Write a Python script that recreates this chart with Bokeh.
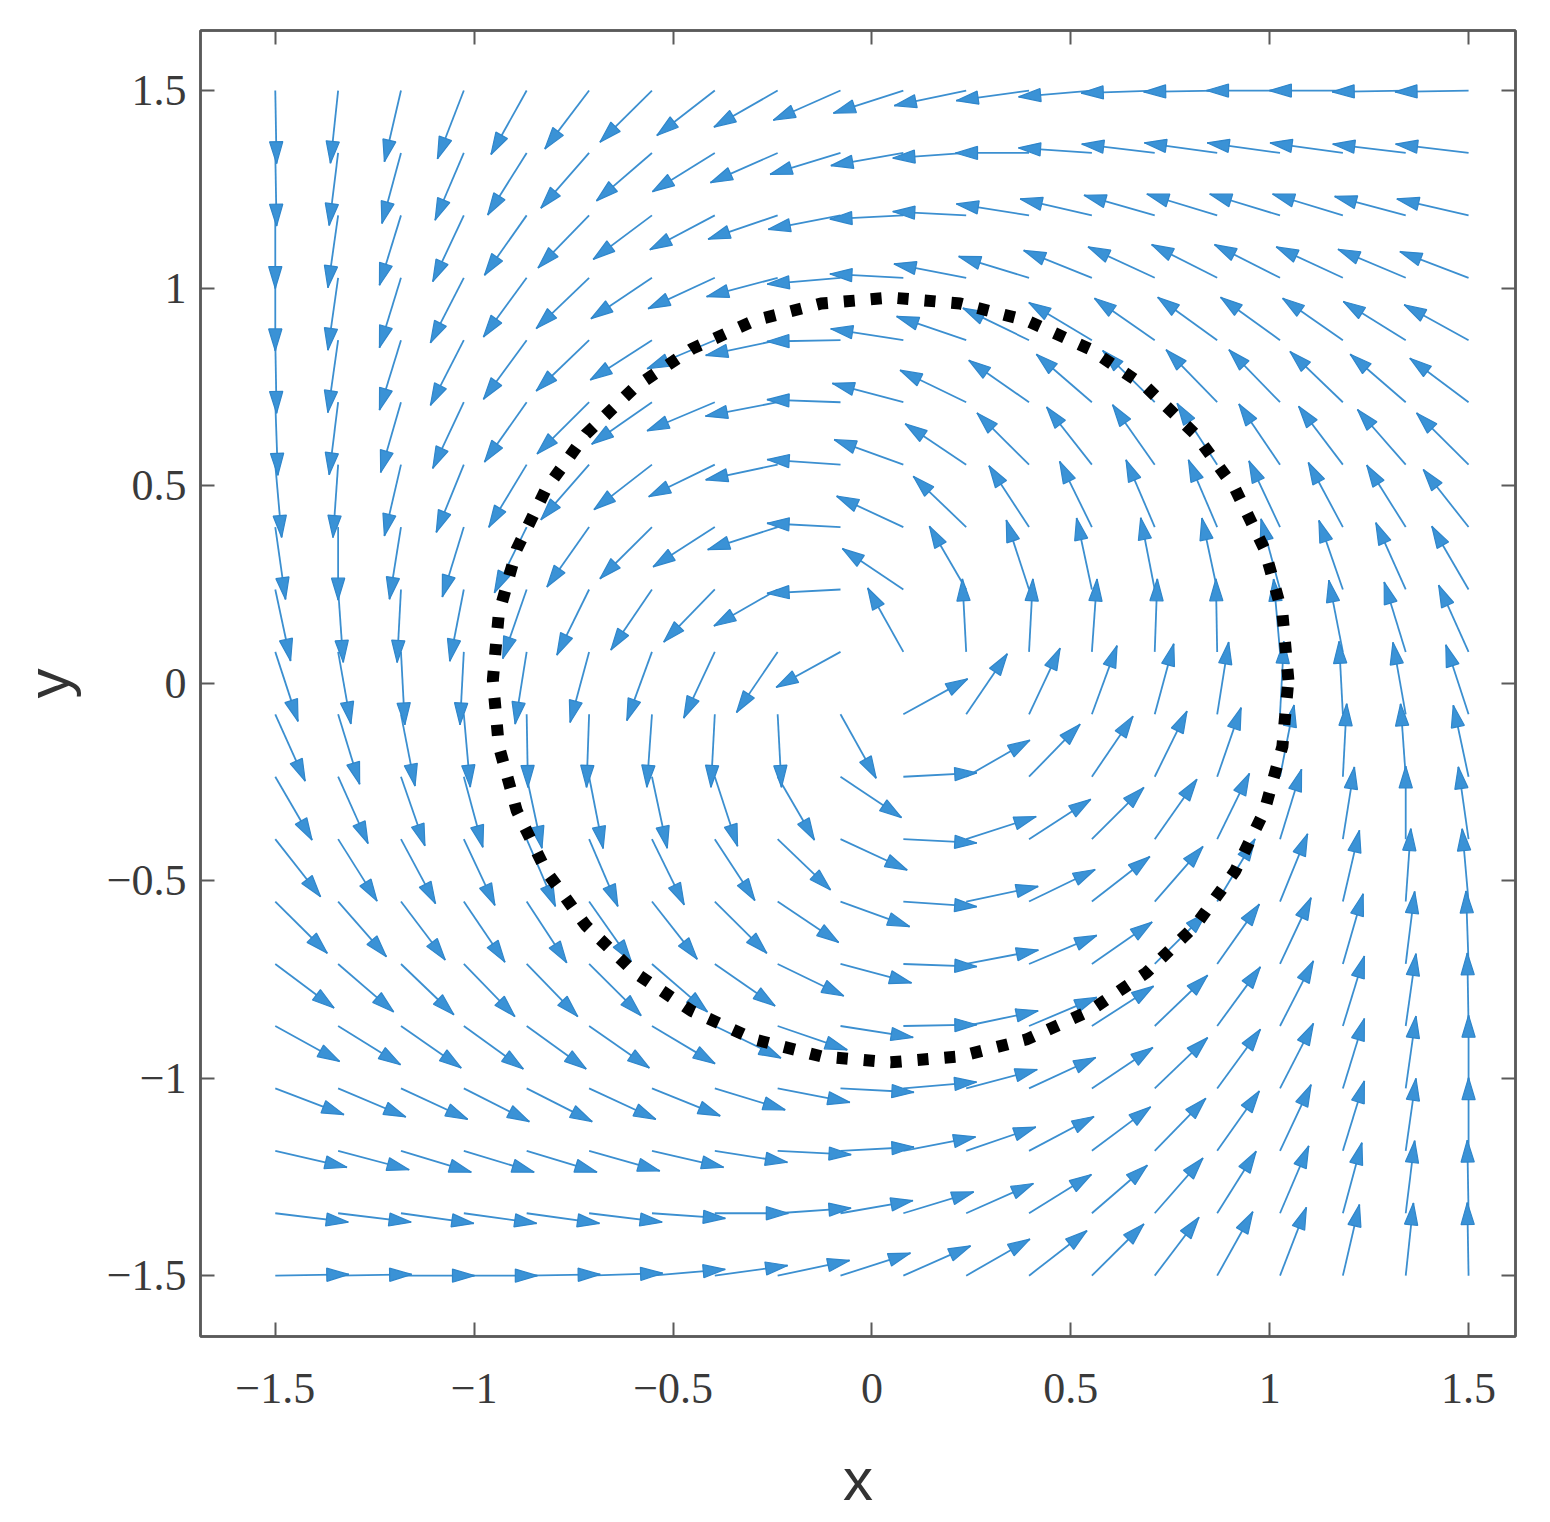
import math
from bokeh.plotting import figure
from bokeh.models import FixedTicker, LinearAxis
from bokeh.embed import file_html
from bokeh.resources import INLINE

# grid of arrow tails (same for x and y)
grid = [-1.5, -1.342, -1.184, -1.026, -0.868, -0.711, -0.553, -0.395, -0.237, -0.079,
        0.079, 0.237, 0.395, 0.553, 0.711, 0.868, 1.026, 1.184, 1.342, 1.5]

# arrow direction (degrees, counter-clockwise from +x), rows from y=1.5 (top) to y=-1.5
angles = [
    [271, 264, 257, 249, 241, 233, 225, 218, 210, 204, 198, 192, 188, 185, 182, 181, 180, 180, 181, 181],
    [271, 263, 255, 247, 238, 229, 221, 212, 204, 197, 190, 184, 180, 176, 173, 172, 172, 172, 173, 173],
    [270, 262, 253, 245, 235, 226, 217, 208, 199, 191, 183, 177, 171, 167, 164, 163, 163, 163, 165, 167],
    [270, 262, 253, 243, 234, 224, 214, 205, 195, 185, 177, 169, 163, 158, 155, 153, 153, 155, 157, 159],
    [271, 262, 253, 243, 234, 224, 213, 203, 192, 181, 171, 161, 154, 149, 145, 144, 144, 145, 148, 151],
    [272, 263, 254, 245, 235, 225, 215, 203, 191, 178, 165, 154, 145, 139, 135, 134, 134, 136, 139, 143],
    [275, 266, 257, 248, 239, 229, 218, 206, 192, 176, 160, 146, 135, 128, 125, 123, 124, 127, 131, 135],
    [278, 270, 261, 253, 244, 235, 225, 213, 198, 177, 155, 136, 123, 116, 113, 113, 115, 118, 122, 128],
    [282, 274, 267, 259, 251, 244, 236, 226, 210, 183, 146, 120, 108, 102, 101, 102, 105, 109, 114, 120],
    [288, 280, 273, 267, 261, 255, 250, 245, 236, 209, 119, 93, 87, 86, 88, 91, 95, 101, 107, 114],
    [294, 287, 281, 275, 271, 268, 266, 267, 273, 299, 29, 56, 65, 70, 75, 81, 87, 93, 100, 108],
    [300, 294, 289, 285, 282, 281, 282, 288, 300, 326, 3, 30, 46, 56, 64, 71, 79, 87, 94, 102],
    [308, 302, 298, 295, 293, 293, 296, 303, 316, 335, 357, 18, 33, 45, 55, 64, 73, 81, 90, 98],
    [315, 311, 307, 304, 303, 305, 308, 315, 326, 340, 356, 12, 26, 38, 49, 59, 68, 77, 86, 95],
    [323, 319, 316, 314, 314, 315, 319, 325, 334, 345, 358, 11, 23, 35, 45, 55, 65, 74, 83, 92],
    [331, 328, 325, 324, 324, 325, 329, 334, 341, 351, 1, 12, 23, 33, 44, 54, 63, 73, 82, 91],
    [339, 337, 335, 333, 333, 335, 338, 343, 349, 357, 5, 15, 25, 34, 44, 54, 63, 73, 82, 90],
    [347, 345, 343, 343, 343, 344, 347, 351, 357, 3, 11, 19, 28, 37, 46, 55, 65, 73, 82, 90],
    [353, 353, 352, 352, 352, 353, 356, 0, 4, 10, 17, 24, 32, 41, 49, 58, 67, 75, 83, 91],
    [1, 1, 0, 0, 1, 2, 5, 8, 12, 18, 24, 30, 38, 45, 53, 61, 69, 77, 84, 91],
]
arrow_len = 0.185

# limit cycle (dotted curve)
cycle_x = [1.047, 1.032, 0.987, 0.913, 0.813, 0.690, 0.547, 0.389, 0.221, 0.047,
           -0.127, -0.295, -0.453, -0.596, -0.719, -0.819, -0.893, -0.938, -0.953,
           -0.938, -0.893, -0.819, -0.719, -0.596, -0.453, -0.295, -0.127, 0.047,
           0.221, 0.389, 0.547, 0.690, 0.813, 0.913, 0.987, 1.032, 1.047]
cycle_y = [0.008, 0.176, 0.339, 0.492, 0.630, 0.749, 0.846, 0.918, 0.961, 0.976,
           0.961, 0.918, 0.846, 0.749, 0.630, 0.492, 0.339, 0.176, 0.008,
           -0.160, -0.323, -0.476, -0.614, -0.733, -0.830, -0.902, -0.945, -0.960,
           -0.945, -0.902, -0.830, -0.733, -0.614, -0.476, -0.323, -0.160, 0.008]

ticks = [-1.5, -1, -0.5, 0, 0.5, 1, 1.5]
tick_labels = ["\u22121.5", "\u22121", "\u22120.5", "0", "0.5", "1", "1.5"]

# ---- build arrow geometry from the data ----
x0, y0, x1, y1, hx, hy = [], [], [], [], [], []
n = len(grid)
for r in range(n):
    yv = grid[n - 1 - r]
    for c in range(n):
        xv = grid[c]
        a = math.radians(angles[r][c])
        ca, sa = math.cos(a), math.sin(a)
        tx, ty = xv + arrow_len * ca, yv + arrow_len * sa
        x0.append(xv); y0.append(yv); x1.append(tx); y1.append(ty)
        bl = 0.30 * arrow_len
        hw = 0.09 * arrow_len
        bx, by = tx - bl * ca, ty - bl * sa
        hx.append([tx, bx - hw * sa, bx + hw * sa])
        hy.append([ty, by + hw * ca, by - hw * ca])

p = figure(width=1540, height=1515, x_range=(-1.688, 1.618), y_range=(-1.654, 1.652),
           output_backend="svg", toolbar_location=None,
           min_border_left=200, min_border_right=25, min_border_top=30, min_border_bottom=178)
p.background_fill_color = "white"
p.border_fill_color = "white"
p.grid.visible = False
p.outline_line_color = "#5a5a5a"
p.outline_line_width = 2.5

p.segment(x0=x0, y0=y0, x1=x1, y1=y1, line_color="#3b8fd0", line_width=1.8)
p.patches(xs=hx, ys=hy, fill_color="#3a92d6", line_color="#2f86cb", line_width=1.2)

p.line(cycle_x, cycle_y, line_color="black", line_width=12, line_dash="11 16",
       line_cap="butt", line_join="miter")

tick_font = "Liberation Serif"
overrides = {t: l for t, l in zip(ticks, tick_labels)}
for ax in (p.xaxis[0], p.yaxis[0]):
    ax.ticker = FixedTicker(ticks=ticks)
    ax.major_label_overrides = overrides
    ax.major_label_text_font = tick_font
    ax.major_label_text_font_size = "44px"
    ax.major_label_text_color = "#3a3a3a"
    ax.major_tick_in = 14
    ax.major_tick_out = 0
    ax.minor_tick_line_color = None
    ax.major_tick_line_color = "#5a5a5a"
    ax.major_tick_line_width = 2
    ax.axis_line_color = "#5a5a5a"
    ax.axis_line_width = 2.5
    ax.axis_label_text_font = "Liberation Sans"
    ax.axis_label_text_font_style = "normal"
    ax.axis_label_text_font_size = "60px"
    ax.axis_label_text_color = "#333333"

p.xaxis[0].axis_label = "x"
p.yaxis[0].axis_label = "y"
p.xaxis[0].major_label_standoff = 37
p.xaxis[0].axis_label_standoff = 40
p.yaxis[0].major_label_standoff = 14
p.yaxis[0].axis_label_standoff = 22

for side in ("above", "right"):
    ax = LinearAxis(ticker=FixedTicker(ticks=ticks), major_label_text_font_size="8px",
                    major_label_text_color=None,
                    major_label_standoff=0, major_tick_in=14, major_tick_out=0,
                    minor_tick_line_color=None, major_tick_line_color="#5a5a5a",
                    major_tick_line_width=2, axis_line_color="#5a5a5a", axis_line_width=2.5)
    p.add_layout(ax, side)

open("out.html", "w").write(file_html(p, INLINE))
